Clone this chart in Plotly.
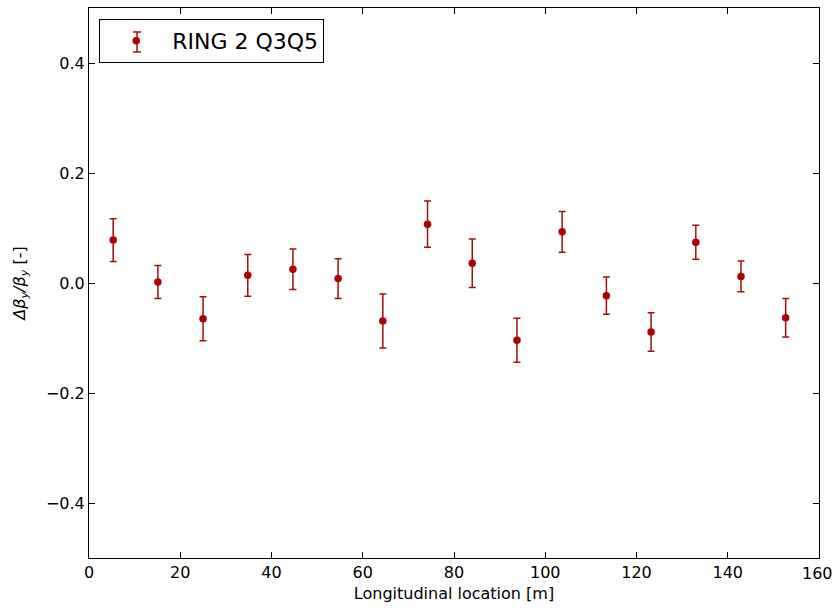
import plotly.graph_objects as go

location = [5.3, 15.1, 25.0, 34.8, 44.7, 54.6, 64.4, 74.2, 84.0, 93.8, 103.7, 113.4, 123.2, 133.0, 142.9, 152.7]
dbeta = [0.078, 0.002, -0.065, 0.014, 0.025, 0.008, -0.069, 0.107, 0.036, -0.104, 0.093, -0.023, -0.089, 0.074, 0.012, -0.063]
err = [0.039, 0.030, 0.040, 0.038, 0.037, 0.036, 0.049, 0.042, 0.044, 0.040, 0.037, 0.034, 0.035, 0.031, 0.028, 0.035]

RED = "#b00000"
ERR_RED = "#a01010"

fig = go.Figure()
fig.add_trace(go.Scatter(
    x=location, y=dbeta, mode="markers", name="RING 2 Q3Q5",
    marker=dict(color=RED, size=7.5),
    error_y=dict(type="data", array=err, visible=True, color=ERR_RED, thickness=1.5, width=3.5),
))

axis_common = dict(
    showgrid=False, zeroline=False, ticks="inside", ticklen=6, tickcolor="black",
    showline=True, linecolor="black", linewidth=1, mirror="ticks",
    tickfont=dict(family="DejaVu Sans", size=16, color="black"),
)
fig.update_layout(
    width=832, height=613,
    margin=dict(l=89, r=13, t=8, b=55),
    plot_bgcolor="white", paper_bgcolor="white",
    font=dict(family="DejaVu Sans", color="black"),
    showlegend=True,
    legend=dict(x=0.014, y=0.98, xanchor="left", yanchor="top",
                bordercolor="black", borderwidth=1, bgcolor="rgba(0,0,0,0)",
                itemwidth=62,
                font=dict(size=22, family="DejaVu Sans")),
    xaxis=dict(range=[0, 160], tickvals=[0, 20, 40, 60, 80, 100, 120, 140],
               title=dict(text="Longitudinal location [m]", font=dict(size=16), standoff=6),
               **axis_common),
    yaxis=dict(range=[-0.5, 0.5], tickvals=[-0.4, -0.2, 0.0, 0.2, 0.4],
               ticktext=["\u22120.4", "\u22120.2", "0.0", "0.2", "0.4"],
               title=dict(text="<i>\u0394\u03b2<sub>y</sub>/\u03b2<sub>y</sub></i> [-]", font=dict(size=16), standoff=16),
               **axis_common),
)
# error-bar glyph for the legend key (decoration only)
lx, ly0, ly1, cap = 0.0658, 0.92, 0.9564, 0.0055
for (x0, y0, x1, y1) in [(lx, ly0, lx, ly1), (lx - cap, ly0, lx + cap, ly0), (lx - cap, ly1, lx + cap, ly1)]:
    fig.add_shape(type="line", xref="paper", yref="paper", x0=x0, y0=y0, x1=x1, y1=y1,
                  line=dict(color=ERR_RED, width=1.5), layer="above")
# last x tick label at the right edge, as in the reference
fig.add_annotation(x=160, xref="x", y=0, yref="paper", yshift=-4, xshift=-2, text="160",
                   showarrow=False, xanchor="center", yanchor="top",
                   font=dict(size=16, family="DejaVu Sans", color="black"))
fig.write_html("out.html")
